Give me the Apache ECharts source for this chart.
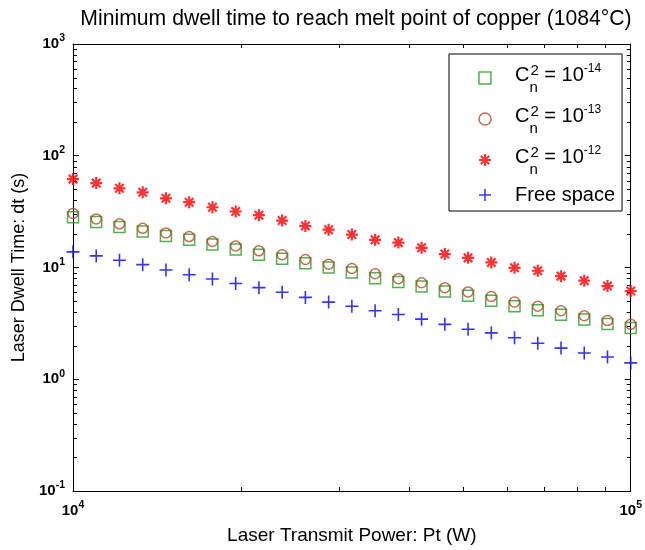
<!DOCTYPE html>
<html><head><meta charset="utf-8">
<script src="https://cdn.jsdelivr.net/npm/echarts@6/dist/echarts.min.js"></script>
<style>html,body{margin:0;padding:0;background:#fff}#c{width:645px;height:550px}</style>
</head><body><div id="c"></div>
<script>
// ---- data ----
const power = [10000, 11007, 12115, 13335, 14678, 16156, 17783, 19573, 21544, 23714, 26102, 28730, 31623,
  34807, 38312, 42170, 46416, 51090, 56234, 61897, 68129, 74989, 82540, 90852, 100000];
const cn14 = [28.2, 25.5, 23.0, 21.0, 19.1, 17.7, 16.1, 14.5, 13.0, 12.0, 10.9, 10.0, 9.0,
  8.0, 7.4, 6.75, 6.1, 5.6, 5.05, 4.5, 4.15, 3.77, 3.42, 3.12, 2.87];
const cn13 = [30.5, 27.2, 24.6, 22.4, 20.4, 18.9, 17.1, 15.6, 14.1, 13.0, 11.8, 10.7, 9.8,
  8.8, 7.95, 7.3, 6.6, 6.05, 5.5, 4.9, 4.5, 4.1, 3.7, 3.35, 3.1];
const cn12 = [61.8, 56.9, 51.1, 47.1, 41.6, 38.4, 34.6, 31.7, 29.4, 26.3, 23.5, 21.8, 19.7,
  17.7, 16.7, 15.0, 13.2, 12.2, 11.1, 9.94, 9.35, 8.37, 7.62, 6.82, 6.16];
const freeSpace = [13.8, 12.7, 11.6, 10.6, 9.5, 8.6, 7.9, 7.2, 6.6, 6.0, 5.4, 4.9, 4.5,
  4.1, 3.8, 3.45, 3.1, 2.8, 2.6, 2.35, 2.1, 1.9, 1.72, 1.58, 1.40];
const seriesNames = ['cn14', 'cn13', 'cn12', 'free'];
const legendExp = { cn14: '-14', cn13: '-13', cn12: '-12' };
const xExp = [4, 5];          // tick labels 10^4, 10^5
const yExp = [-1, 0, 1, 2, 3]; // tick labels 10^-1 ... 10^3
const titleText = 'Minimum dwell time to reach melt point of copper (1084\u00B0C)';
const xName = 'Laser Transmit Power: Pt (W)';
const yName = 'Laser Dwell Time: dt (s)';

// ---- styling ----
const FONT = 'Liberation Sans, Arial, Helvetica, sans-serif';
const GREEN = '#2a9a2a', BROWN = '#b04a22', RED = '#ff0000', BLUE = '#0000ff';
const STAR = 'path://M0,5L10,5M5,0L5,10M1.46,1.46L8.54,8.54M1.46,8.54L8.54,1.46';
const PLUS = 'path://M0,5L10,5M5,0L5,10';

const zip = (xs, ys) => xs.map((x, i) => [x, ys[i]]);

const minorData = [];
const mant = [2, 3, 4, 5, 6, 7, 8, 9];
for (let e = xExp[0]; e < xExp[xExp.length - 1]; e++) mant.forEach(m => minorData.push([m * Math.pow(10, e), 1, 0]));
for (let e = yExp[0]; e < yExp[yExp.length - 1]; e++) mant.forEach(m => minorData.push([1e4, m * Math.pow(10, e), 1]));

const tickLabelFmt = v => '{b|10}{s|' + Math.round(Math.log10(v)) + '}';
const tickRich = {
  b: { fontFamily: FONT, fontSize: 15, fontWeight: 'bold', color: '#000', lineHeight: 22 },
  s: { fontFamily: FONT, fontSize: 10.5, fontWeight: 'bold', color: '#000', height: 11, verticalAlign: 'top' }
};

function mkX(pos, showLabel) {
  return {
    type: 'log', logBase: 10, position: pos, min: Math.pow(10, xExp[0]), max: Math.pow(10, xExp[xExp.length - 1]),
    axisLine: { show: true, onZero: false, lineStyle: { color: '#000', width: 1 } },
    axisTick: { show: true, inside: true, length: 6, lineStyle: { color: '#000' } },
    axisLabel: { show: showLabel, formatter: tickLabelFmt, rich: tickRich, margin: 9 },
    splitLine: { show: false }, minorTick: { show: false },
    name: showLabel ? xName : '', nameLocation: 'middle', nameGap: 35,
    nameTextStyle: { fontFamily: FONT, fontSize: 19, color: '#000' }
  };
}
function mkY(pos, showLabel) {
  return {
    type: 'log', logBase: 10, position: pos, min: Math.pow(10, yExp[0]), max: Math.pow(10, yExp[yExp.length - 1]),
    axisLine: { show: true, onZero: false, lineStyle: { color: '#000', width: 1 } },
    axisTick: { show: true, inside: true, length: 6, lineStyle: { color: '#000' } },
    axisLabel: { show: showLabel, formatter: tickLabelFmt, rich: tickRich, margin: 8 },
    splitLine: { show: false }, minorTick: { show: false },
    name: showLabel ? yName : '', nameLocation: 'middle', nameGap: 42, nameRotate: 90,
    nameTextStyle: { fontFamily: FONT, fontSize: 18, color: '#000' }
  };
}

function legendLabel(name) {
  if (name === 'free') return '{f|Free space}';
  return '{c|C}{n|n}{s|2}{e| = 10}{x|' + legendExp[name] + '}';
}

const hollow = c => ({ color: 'rgba(0,0,0,0)', borderColor: c, borderWidth: 1.5 });

const chart = echarts.init(document.getElementById('c'), null, { renderer: 'canvas' });
chart.setOption({
  animation: false,
  backgroundColor: '#fff',
  title: {
    text: titleText, left: 351, top: 4, textAlign: 'center',
    textStyle: { fontFamily: FONT, fontSize: 21.2, fontWeight: 'normal', color: '#000' }
  },
  grid: { left: 73, right: 13, top: 44, bottom: 56, containLabel: false },
  xAxis: [mkX('bottom', true), mkX('top', false)],
  yAxis: [mkY('left', true), mkY('right', false)],
  legend: {
    orient: 'vertical', left: 449, top: 54, padding: [8, 7, 6, 29], itemGap: 8,
    itemWidth: 12, itemHeight: 12, borderColor: '#000', borderWidth: 1, backgroundColor: '#fff',
    selectedMode: false,
    data: [
      { name: 'cn14', icon: 'rect', itemStyle: hollow(GREEN) },
      { name: 'cn13', icon: 'circle', itemStyle: hollow(BROWN) },
      { name: 'cn12', icon: STAR, itemStyle: { color: 'rgba(0,0,0,0)', borderColor: RED, borderWidth: 2 } },
      { name: 'free', icon: PLUS, itemStyle: hollow(BLUE) }
    ],
    formatter: legendLabel,
    textStyle: {
      fontFamily: FONT, fontSize: 20, color: '#000',
      rich: {
        c: { fontFamily: FONT, fontSize: 20, color: '#000', height: 26, lineHeight: 32, verticalAlign: 'top', padding: [0, 0, 0, 19] },
        n: { fontFamily: FONT, fontSize: 15, color: '#000', height: 13, width: 1, verticalAlign: 'bottom' },
        s: { fontFamily: FONT, fontSize: 15, color: '#000', height: 18, verticalAlign: 'top' },
        e: { fontFamily: FONT, fontSize: 20, color: '#000', height: 26, verticalAlign: 'top' },
        x: { fontFamily: FONT, fontSize: 12, color: '#000', height: 13, verticalAlign: 'top' },
        f: { fontFamily: FONT, fontSize: 20, color: '#000', lineHeight: 20, padding: [0, 0, 0, 19] }
      }
    }
  },
  series: [
    { name: 'cn14', type: 'scatter', data: zip(power, cn14), symbol: 'rect', symbolSize: 11,
      itemStyle: hollow(GREEN), silent: true, z: 2 },
    { name: 'cn13', type: 'scatter', data: zip(power, cn13), symbol: 'circle', symbolSize: 10,
      itemStyle: hollow(BROWN), silent: true, z: 3 },
    { name: 'cn12', type: 'scatter', data: zip(power, cn12), symbol: STAR, symbolSize: 12,
      itemStyle: { color: 'rgba(0,0,0,0)', borderColor: RED, borderWidth: 2.2 }, silent: true, z: 4 },
    { name: 'free', type: 'scatter', data: zip(power, freeSpace), symbol: PLUS, symbolSize: 13,
      itemStyle: { color: 'rgba(0,0,0,0)', borderColor: BLUE, borderWidth: 1.6 }, silent: true, z: 5 },
    { name: 'minorTicks', type: 'custom', silent: true, clip: false, z: 1,
      dimensions: ['x', 'y', 'k'], encode: { x: 0, y: 1 },
      data: minorData,
      renderItem: function (params, api) {
        const cs = params.coordSys;
        const ls = { stroke: '#000', lineWidth: 1 };
        if (api.value(2) === 0) {
          const x = Math.round(api.coord([api.value(0), 1])[0]) + 0.5;
          const b = cs.y + cs.height, t = cs.y;
          return { type: 'group', children: [
            { type: 'line', shape: { x1: x, y1: b, x2: x, y2: b - 4 }, style: ls },
            { type: 'line', shape: { x1: x, y1: t, x2: x, y2: t + 4 }, style: ls }
          ] };
        }
        const y = Math.round(api.coord([1e4, api.value(1)])[1]) + 0.5;
        const l = cs.x, r = cs.x + cs.width;
        return { type: 'group', children: [
          { type: 'line', shape: { x1: l, y1: y, x2: l + 4, y2: y }, style: ls },
          { type: 'line', shape: { x1: r, y1: y, x2: r - 4, y2: y }, style: ls }
        ] };
      }
    }
  ]
});
</script>
</body></html>
